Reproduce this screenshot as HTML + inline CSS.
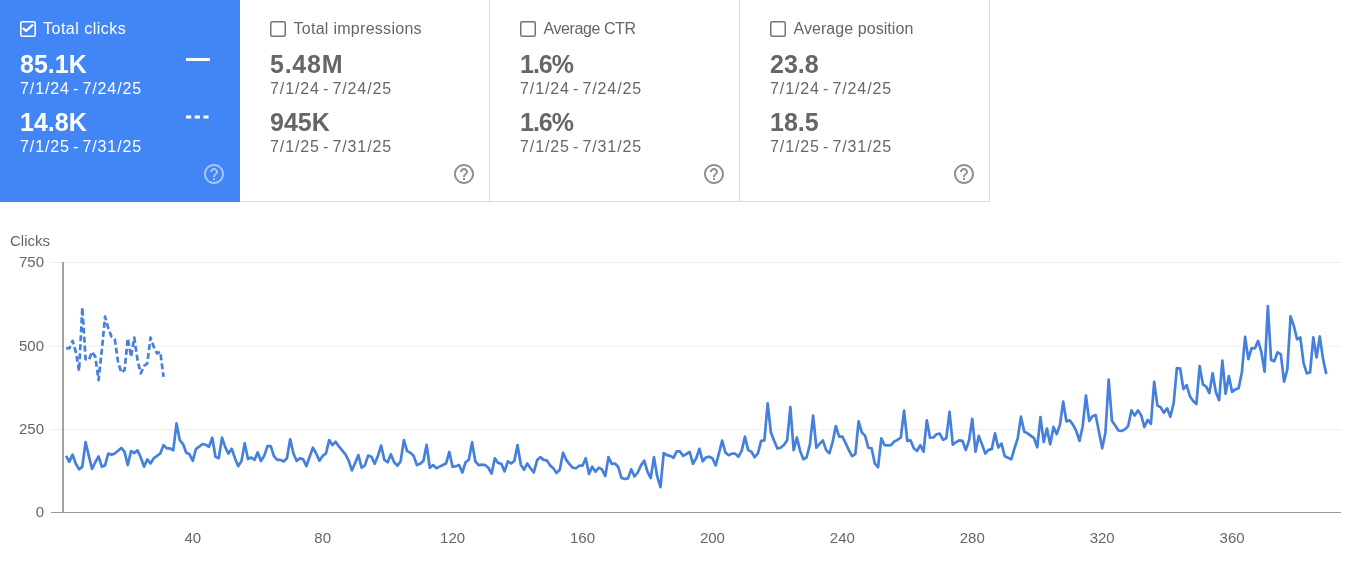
<!DOCTYPE html>
<html><head><meta charset="utf-8"><style>
html,body{margin:0;padding:0;background:#fff;width:1368px;height:569px;overflow:hidden;font-family:"Liberation Sans",sans-serif;}
.card{position:absolute;top:0;height:202px;box-sizing:border-box;border-bottom:1px solid #dadce0;border-right:1px solid #dadce0;background:#fff;color:#666;}
.card.sel{background:#4285f4;color:#fff;border:none;height:202px;}
.ck{position:absolute;top:21px;width:16px;height:16px;}
.chk{display:block}
.title{position:absolute;top:19px;font-size:16px;line-height:20px;letter-spacing:0px;white-space:nowrap;}
.num{position:absolute;font-size:25px;letter-spacing:0px;font-weight:bold;line-height:28px;white-space:nowrap;}
.date{position:absolute;font-size:16px;line-height:20px;letter-spacing:0.9px;word-spacing:-2.2px;white-space:nowrap;}
.leg1{position:absolute;left:186px;top:58px;width:24px;height:2.5px;background:#fff;}
.leg2{position:absolute;left:186px;top:115px;}
.help{position:absolute;top:162px;fill:#8f8f8f;}
.sel .help{fill:rgba(255,255,255,0.55);}
svg.chart{position:absolute;left:0;top:0;}
svg.chart text{font-family:"Liberation Sans",sans-serif;font-size:15px;fill:#666;}
</style></head><body><div id="root" style="position:absolute;left:0;top:0;width:1368px;height:569px;will-change:transform;">
<div class="card sel" style="left:0px;width:240px">
  <div class="ck" style="left:20px"><svg class="chk" width="16" height="16" viewBox="0 0 16 16"><rect x="0.8" y="0.8" width="14.4" height="14.4" rx="1.5" fill="none" stroke="#fff" stroke-width="1.6"/><path d="M3.5 7.6 L6.1 9.9 L12.4 4.2" fill="none" stroke="#fff" stroke-width="2.3" stroke-linecap="round" stroke-linejoin="round"/></svg></div>
  <div class="title" style="left:43px;letter-spacing:0.5px">Total clicks</div>
  <div class="num" style="left:20px;top:50px;letter-spacing:0px">85.1K</div>
  <div class="date" style="left:20px;top:79px">7/1/24 - 7/24/25</div>
  <div class="num" style="left:20px;top:108px;letter-spacing:0px">14.8K</div>
  <div class="date" style="left:20px;top:137px">7/1/25 - 7/31/25</div>
  <div class="leg1"></div><svg class="leg2" width="26" height="4"><line x1="0" y1="2" x2="26" y2="2" stroke="#fff" stroke-width="3" stroke-dasharray="5.2 3.5"/></svg>
  <svg class="help" style="left:202px" width="24" height="24" viewBox="0 0 24 24"><path d="M11 18h2v-2h-2v2zm1-16C6.48 2 2 6.48 2 12s4.48 10 10 10 10-4.48 10-10S17.52 2 12 2zm0 18c-4.41 0-8-3.59-8-8s3.59-8 8-8 8 3.59 8 8-3.59 8-8 8zm0-14c-2.21 0-4 1.79-4 4h2c0-1.1.9-2 2-2s2 .9 2 2c0 2-3 1.75-3 5h2c0-2.25 3-2.5 3-5 0-2.21-1.79-4-4-4z"/></svg>
</div>
<div class="card" style="left:240px;width:250px">
  <div class="ck" style="left:30px"><svg class="chk" width="16" height="16" viewBox="0 0 16 16"><rect x="0.75" y="0.75" width="14.5" height="14.5" rx="1.5" fill="none" stroke="#757575" stroke-width="1.5"/></svg></div>
  <div class="title" style="left:53.5px;letter-spacing:0.28px">Total impressions</div>
  <div class="num" style="left:30px;top:50px;letter-spacing:0.75px">5.48M</div>
  <div class="date" style="left:30px;top:79px">7/1/24 - 7/24/25</div>
  <div class="num" style="left:30px;top:108px;letter-spacing:0px">945K</div>
  <div class="date" style="left:30px;top:137px">7/1/25 - 7/31/25</div>
  
  <svg class="help" style="left:212px" width="24" height="24" viewBox="0 0 24 24"><path d="M11 18h2v-2h-2v2zm1-16C6.48 2 2 6.48 2 12s4.48 10 10 10 10-4.48 10-10S17.52 2 12 2zm0 18c-4.41 0-8-3.59-8-8s3.59-8 8-8 8 3.59 8 8-3.59 8-8 8zm0-14c-2.21 0-4 1.79-4 4h2c0-1.1.9-2 2-2s2 .9 2 2c0 2-3 1.75-3 5h2c0-2.25 3-2.5 3-5 0-2.21-1.79-4-4-4z"/></svg>
</div>
<div class="card" style="left:490px;width:250px">
  <div class="ck" style="left:30px"><svg class="chk" width="16" height="16" viewBox="0 0 16 16"><rect x="0.75" y="0.75" width="14.5" height="14.5" rx="1.5" fill="none" stroke="#757575" stroke-width="1.5"/></svg></div>
  <div class="title" style="left:53.5px;letter-spacing:-0.42px">Average CTR</div>
  <div class="num" style="left:30px;top:50px;letter-spacing:-1px">1.6%</div>
  <div class="date" style="left:30px;top:79px">7/1/24 - 7/24/25</div>
  <div class="num" style="left:30px;top:108px;letter-spacing:-1px">1.6%</div>
  <div class="date" style="left:30px;top:137px">7/1/25 - 7/31/25</div>
  
  <svg class="help" style="left:212px" width="24" height="24" viewBox="0 0 24 24"><path d="M11 18h2v-2h-2v2zm1-16C6.48 2 2 6.48 2 12s4.48 10 10 10 10-4.48 10-10S17.52 2 12 2zm0 18c-4.41 0-8-3.59-8-8s3.59-8 8-8 8 3.59 8 8-3.59 8-8 8zm0-14c-2.21 0-4 1.79-4 4h2c0-1.1.9-2 2-2s2 .9 2 2c0 2-3 1.75-3 5h2c0-2.25 3-2.5 3-5 0-2.21-1.79-4-4-4z"/></svg>
</div>
<div class="card" style="left:740px;width:250px">
  <div class="ck" style="left:30px"><svg class="chk" width="16" height="16" viewBox="0 0 16 16"><rect x="0.75" y="0.75" width="14.5" height="14.5" rx="1.5" fill="none" stroke="#757575" stroke-width="1.5"/></svg></div>
  <div class="title" style="left:53.5px;letter-spacing:0.06px">Average position</div>
  <div class="num" style="left:30px;top:50px;letter-spacing:0px">23.8</div>
  <div class="date" style="left:30px;top:79px">7/1/24 - 7/24/25</div>
  <div class="num" style="left:30px;top:108px;letter-spacing:0px">18.5</div>
  <div class="date" style="left:30px;top:137px">7/1/25 - 7/31/25</div>
  
  <svg class="help" style="left:212px" width="24" height="24" viewBox="0 0 24 24"><path d="M11 18h2v-2h-2v2zm1-16C6.48 2 2 6.48 2 12s4.48 10 10 10 10-4.48 10-10S17.52 2 12 2zm0 18c-4.41 0-8-3.59-8-8s3.59-8 8-8 8 3.59 8 8-3.59 8-8 8zm0-14c-2.21 0-4 1.79-4 4h2c0-1.1.9-2 2-2s2 .9 2 2c0 2-3 1.75-3 5h2c0-2.25 3-2.5 3-5 0-2.21-1.79-4-4-4z"/></svg>
</div>

<svg class="chart" width="1368" height="569">
<text x="10" y="246" style="fill:#666;letter-spacing:0px">Clicks</text>
<line x1="50" y1="262.5" x2="1341" y2="262.5" stroke="#eeeeee" stroke-width="1"/><line x1="50" y1="346.0" x2="1341" y2="346.0" stroke="#eeeeee" stroke-width="1"/><line x1="50" y1="429.5" x2="1341" y2="429.5" stroke="#eeeeee" stroke-width="1"/>
<line x1="51" y1="512.5" x2="1341" y2="512.5" stroke="#999" stroke-width="1.2"/>
<line x1="63" y1="262" x2="63" y2="512.5" stroke="#999" stroke-width="1.8"/>
<text x="44" y="267" text-anchor="end">750</text><text x="44" y="350.5" text-anchor="end">500</text><text x="44" y="434" text-anchor="end">250</text><text x="44" y="517" text-anchor="end">0</text>
<text x="192.75" y="543" text-anchor="middle">40</text><text x="322.67" y="543" text-anchor="middle">80</text><text x="452.59" y="543" text-anchor="middle">120</text><text x="582.51" y="543" text-anchor="middle">160</text><text x="712.43" y="543" text-anchor="middle">200</text><text x="842.35" y="543" text-anchor="middle">240</text><text x="972.27" y="543" text-anchor="middle">280</text><text x="1102.19" y="543" text-anchor="middle">320</text><text x="1232.11" y="543" text-anchor="middle">360</text>
<path d="M66.08,348.09 L69.33,348.42 L72.57,340.91 L75.82,351.76 L79.07,370.96 L82.32,307.52 L85.57,359.27 L88.81,360.11 L92.06,351.76 L95.31,356.77 L98.56,380.14 L101.81,350.09 L105.05,316.70 L108.30,328.39 L111.55,336.74 L114.80,339.24 L118.05,361.78 L121.29,372.63 L124.54,370.13 L127.79,338.41 L131.04,356.77 L134.29,337.57 L137.53,360.11 L140.78,373.46 L144.03,365.95 L147.28,363.45 L150.53,337.57 L153.77,346.75 L157.02,353.43 L160.27,351.76 L163.52,376.80" fill="none" stroke="#4580dd" stroke-width="2.7" stroke-dasharray="6 3" stroke-linejoin="round"/>
<path d="M66.08,455.89 L69.33,461.90 L72.57,454.62 L75.82,463.80 L79.07,469.34 L82.32,466.65 L85.57,442.12 L88.81,455.89 L92.06,468.86 L95.31,462.22 L98.56,456.36 L101.81,466.65 L105.05,465.38 L108.30,453.51 L111.55,454.78 L114.80,453.51 L118.05,450.82 L121.29,447.97 L124.54,451.93 L127.79,465.06 L131.04,451.14 L134.29,453.04 L137.53,450.35 L140.78,457.47 L144.03,466.65 L147.28,459.37 L150.53,463.48 L153.77,458.26 L157.02,455.89 L160.27,453.51 L163.52,445.13 L166.77,448.29 L170.01,448.29 L173.26,450.35 L176.51,423.45 L179.76,440.06 L183.01,444.02 L186.25,452.72 L189.50,454.30 L192.75,460.95 L196.00,448.77 L199.25,446.71 L202.49,444.02 L205.74,444.81 L208.99,446.71 L212.24,437.69 L215.49,456.68 L218.73,458.26 L221.98,437.69 L225.23,447.18 L228.48,453.51 L231.73,448.77 L234.97,458.26 L238.22,466.17 L241.47,460.95 L244.72,443.23 L247.97,459.05 L251.21,457.47 L254.46,459.84 L257.71,452.41 L260.96,460.95 L264.21,455.89 L267.45,446.08 L270.70,446.08 L273.95,456.20 L277.20,459.84 L280.45,459.84 L283.69,461.42 L286.94,458.26 L290.19,439.27 L293.44,453.51 L296.69,460.95 L299.93,458.26 L303.18,459.37 L306.43,466.17 L309.68,456.68 L312.93,447.66 L316.17,453.51 L319.42,460.63 L322.67,455.89 L325.92,453.51 L329.17,440.06 L332.41,445.13 L335.66,441.65 L338.91,446.39 L342.16,450.35 L345.41,454.30 L348.65,460.63 L351.90,470.44 L355.15,463.01 L358.40,455.09 L361.65,467.75 L364.89,465.38 L368.14,455.57 L371.39,456.68 L374.64,463.80 L377.89,455.89 L381.13,445.60 L384.38,459.84 L387.63,462.22 L390.88,454.30 L394.13,462.22 L397.37,465.70 L400.62,461.42 L403.87,440.06 L407.12,451.14 L410.37,452.72 L413.61,455.89 L416.86,465.06 L420.11,463.80 L423.36,460.95 L426.61,444.81 L429.85,467.75 L433.10,465.06 L436.35,468.23 L439.60,466.65 L442.85,465.06 L446.09,463.48 L449.34,451.93 L452.59,466.96 L455.84,466.17 L459.09,465.06 L462.33,472.50 L465.58,462.22 L468.83,459.84 L472.08,442.44 L475.33,461.42 L478.57,465.06 L481.82,464.59 L485.07,465.06 L488.32,467.75 L491.57,473.61 L494.81,458.26 L498.06,463.01 L501.31,463.80 L504.56,471.39 L507.81,461.42 L511.05,463.48 L514.30,460.95 L517.55,445.13 L520.80,464.59 L524.05,469.81 L527.29,463.48 L530.54,468.23 L533.79,472.50 L537.04,460.32 L540.29,457.15 L543.53,459.84 L546.78,460.32 L550.03,465.38 L553.28,468.23 L556.53,472.97 L559.77,469.81 L563.02,452.72 L566.27,459.84 L569.52,464.11 L572.77,467.75 L576.01,468.23 L579.26,465.70 L582.51,465.70 L585.76,458.26 L589.01,474.08 L592.25,466.65 L595.50,471.71 L598.75,467.75 L602.00,469.34 L605.25,476.14 L608.49,457.15 L611.74,463.80 L614.99,463.48 L618.24,466.96 L621.49,478.04 L624.73,478.83 L627.98,478.35 L631.23,469.34 L634.48,476.46 L637.73,472.50 L640.97,465.38 L644.22,460.63 L647.47,471.71 L650.72,478.04 L653.97,457.15 L657.21,476.46 L660.46,487.22 L663.71,453.04 L666.96,455.09 L670.21,455.89 L673.45,457.78 L676.70,451.46 L679.95,451.46 L683.20,455.89 L686.45,453.99 L689.69,451.93 L692.94,463.80 L696.19,458.26 L699.44,448.77 L702.69,461.42 L705.93,457.47 L709.18,456.68 L712.43,458.26 L715.68,465.38 L718.93,453.29 L722.17,440.63 L725.42,452.50 L728.67,455.19 L731.92,453.61 L735.17,453.61 L738.41,456.77 L741.66,450.92 L744.91,436.68 L748.16,450.13 L751.41,451.71 L754.65,457.25 L757.90,453.29 L761.15,440.95 L764.40,440.32 L767.65,403.45 L770.89,432.41 L774.14,440.63 L777.39,448.54 L780.64,447.75 L783.89,445.06 L787.13,440.32 L790.38,407.09 L793.63,450.13 L796.88,437.47 L800.13,450.92 L803.37,459.30 L806.62,457.25 L809.87,444.59 L813.12,415.63 L816.37,447.75 L819.61,443.80 L822.86,440.32 L826.11,450.13 L829.36,453.29 L832.61,442.22 L835.85,426.08 L839.10,436.68 L842.35,436.68 L845.60,443.01 L848.85,450.13 L852.09,456.14 L855.34,454.08 L858.59,421.33 L861.84,432.41 L865.09,435.89 L868.33,447.75 L871.58,448.23 L874.83,463.58 L878.08,467.22 L881.33,438.26 L884.57,445.06 L887.82,445.38 L891.07,445.06 L894.32,441.42 L897.57,439.84 L900.81,437.47 L904.06,410.57 L907.31,440.95 L910.56,440.32 L913.81,448.23 L917.05,450.92 L920.30,445.06 L923.55,451.71 L926.80,420.38 L930.05,437.78 L933.29,437.47 L936.54,434.30 L939.79,433.51 L943.04,439.84 L946.29,438.26 L949.53,411.84 L952.78,444.59 L956.03,442.22 L959.28,440.32 L962.53,440.95 L965.77,450.13 L969.02,440.63 L972.27,418.80 L975.52,451.71 L978.77,435.89 L982.01,444.37 L985.26,453.54 L988.51,449.91 L991.76,449.11 L995.01,433.29 L998.25,447.53 L1001.50,443.58 L1004.75,456.23 L1008.00,457.82 L1011.25,459.40 L1014.49,448.32 L1017.74,438.04 L1020.99,416.68 L1024.24,431.71 L1027.49,433.29 L1030.73,435.66 L1033.98,438.04 L1037.23,447.22 L1040.48,417.15 L1043.73,441.99 L1046.97,428.54 L1050.22,444.37 L1053.47,426.96 L1056.72,434.08 L1059.97,424.59 L1063.21,401.65 L1066.46,421.42 L1069.71,420.32 L1072.96,424.59 L1076.21,430.92 L1079.45,440.89 L1082.70,426.17 L1085.95,395.63 L1089.20,420.95 L1092.45,416.20 L1095.69,415.09 L1098.94,431.71 L1102.19,448.32 L1105.44,432.50 L1108.69,379.49 L1111.93,420.70 L1115.18,425.44 L1118.43,430.51 L1121.68,430.98 L1124.93,429.40 L1128.17,426.08 L1131.42,410.41 L1134.67,415.63 L1137.92,410.41 L1141.17,415.16 L1144.41,427.03 L1147.66,419.91 L1150.91,423.86 L1154.16,381.93 L1157.41,405.66 L1160.65,407.25 L1163.90,412.78 L1167.15,408.35 L1170.40,416.74 L1173.65,403.29 L1176.89,368.16 L1180.14,368.48 L1183.39,389.05 L1186.64,385.09 L1189.89,396.17 L1193.13,400.92 L1196.38,404.08 L1199.63,366.11 L1202.88,384.30 L1206.13,386.68 L1209.37,393.01 L1212.62,373.23 L1215.87,392.22 L1219.12,400.13 L1222.37,360.57 L1225.61,393.80 L1228.86,376.08 L1232.11,391.90 L1235.36,389.37 L1238.61,388.26 L1241.85,372.53 L1245.10,336.93 L1248.35,359.08 L1251.60,348.01 L1254.85,348.48 L1258.09,340.89 L1261.34,351.96 L1264.59,371.74 L1267.84,306.08 L1271.09,359.87 L1274.33,361.14 L1277.58,352.28 L1280.83,354.34 L1284.08,381.71 L1287.33,369.37 L1290.57,316.36 L1293.82,325.85 L1297.07,339.30 L1300.32,337.41 L1303.57,363.04 L1306.81,373.32 L1310.06,372.53 L1313.31,337.41 L1316.56,357.50 L1319.81,336.46 L1323.05,359.08 L1326.30,374.11" fill="none" stroke="#4580dd" stroke-width="2.7" stroke-linejoin="round"/>
</svg>
</div></body></html>
